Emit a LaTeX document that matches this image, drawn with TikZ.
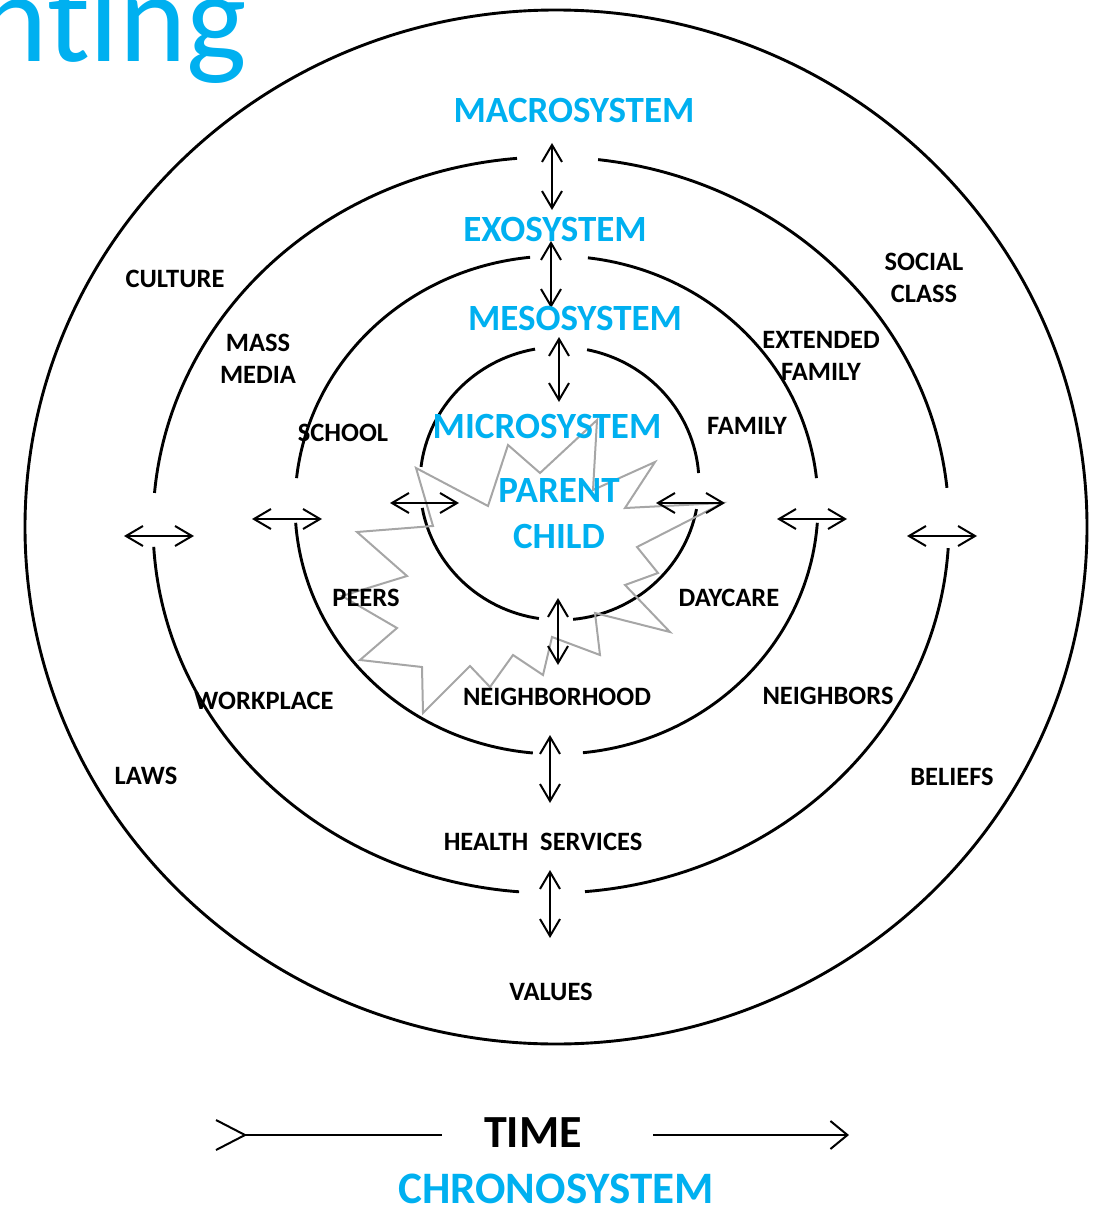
\documentclass[tikz,border=0pt]{standalone}
\usepackage{fontspec}
\setmainfont{Carlito}[Ligatures=NoCommon]
\usetikzlibrary{arrows.meta}
\definecolor{syscyan}{RGB}{0,176,240}
\definecolor{stargray}{RGB}{166,166,166}
\begin{document}
\begin{tikzpicture}[x=1pt,y=-1pt,
    ring/.style={line width=2.9pt},
    link/.style={line width=2pt,{Straight Barb[length=17pt,width=20pt]}-{Straight Barb[length=17pt,width=20pt]}},
    star/.style={draw=stargray,line width=2pt,line join=miter},
    lab/.style={font=\fontsize{26.5}{32}\selectfont\bfseries,align=center,inner sep=0pt},
    sys/.style={font=\fontsize{37}{46}\selectfont\bfseries,text=syscyan,align=center,inner sep=0pt}]
  \useasboundingbox (0,0) rectangle (1099,1209);
  % title, cut at the page edge
  \node[font=\fontsize{128}{130}\selectfont,text=syscyan,anchor=base east,inner sep=0pt] (title) at (247,62) {nting};
  % the rings
  \draw[ring] (556,527) ellipse [x radius=531, y radius=517];
  \foreach \s/\e in {276.8/354.2, 3.6/85.1, 94.6/176.6, 185/265.1}
    \draw[ring] (551,525) ++(\s:398 and 368) arc[start angle=\s, end angle=\e, x radius=398, y radius=368];
  \foreach \s/\e in {276.9/353.8, 4.1/84.2, 95.2/175.9, 186.2/264.2}
    \draw[ring] (556.5,505) ++(\s:261.5 and 249) arc[start angle=\s, end angle=\e, x radius=261.5, y radius=249];
  \foreach \s/\e in {281.4/355.6, 10.8/84.4, 98.5/169.7, 187/259.9}
    \draw[ring] (559.5,483.5) ++(\s:139.5 and 136.5) arc[start angle=\s, end angle=\e, x radius=139.5, y radius=136.5];
  %% the star round the child
  \draw[star] (416,468) -- (433,526) -- (357,532) -- (407,576) -- (342,596) -- (397,628)
    -- (360,660) -- (422,667) -- (423,713) -- (470,666) -- (490,687) -- (513,655)
    -- (543,675) -- (552,637) -- (600,655) -- (595,613) -- (670,632) -- (625,585)
    -- (658,573) -- (637,547) -- (723,503) -- (625,508) -- (655,462) -- (593,490)
    -- (597,420) -- (540,473) -- (508,445) -- (488,506) -- cycle;
  %% arrows between the systems
  \foreach \n/\x/\ya/\yb in {ma/552/143/210, ex/551/241/308, me/559/337/402,
                             mi/558/598/665, nh/550/735/803, hs/550/870/938}
  {
    \coordinate (\n1) at (\x,\ya);
    \coordinate (\n2) at (\x,\yb);
    \draw[link] (\n1) -- (\n2);
  }
  \foreach \n/\y/\xa/\xb in {lw/536/124/194, wp/519/252/322, pe/503/390/459,
                             fa/503/656/725, nb/519/777/847, be/536/907/977}
  {
    \coordinate (\n1) at (\xa,\y);
    \coordinate (\n2) at (\xb,\y);
    \draw[link] (\n1) -- (\n2);
  }
  % system names
  \node[sys] (macro) at (574,110) {MACROSYSTEM};
  \node[sys] (exo) at (555,229) {EXOSYSTEM};
  \node[sys] (meso) at (575,318) {MESOSYSTEM};
  \node[sys] (micro) at (547,426) {MICROSYSTEM};
  \node[sys] (pc) at (559,514) {PARENT\\CHILD};
  % settings
  \node[lab] (culture) at (175,279) {CULTURE};
  \node[lab] (media) at (258,359) {MASS\\MEDIA};
  \node[lab] (school) at (343,433) {SCHOOL};
  \node[lab] (peers) at (366,598) {PEERS};
  \node[lab] (work) at (264,701) {WORKPLACE};
  \node[lab] (laws) at (146,776) {LAWS};
  \node[lab] (social) at (924,278) {SOCIAL\\CLASS};
  \node[lab] (extended) at (821,356) {EXTENDED\\FAMILY};
  \node[lab] (family) at (747,426) {FAMILY};
  \node[lab] (daycare) at (729,598) {DAYCARE};
  \node[lab] (neighbors) at (828,696) {NEIGHBORS};
  \node[lab] (beliefs) at (952,777) {BELIEFS};
  \node[lab] (hood) at (557,697) {NEIGHBORHOOD};
  \node[lab] (health) at (543,842) {HEALTH\ \ SERVICES};
  \node[lab] (values) at (551,992) {VALUES};
  %% time line
  \node[font=\fontsize{46}{50}\selectfont\bfseries,inner sep=0pt] (time) at (533,1133) {TIME};
  \node[sys,font=\fontsize{45}{46}\selectfont\bfseries] (chrono) at (556,1189) {CHRONOSYSTEM};
  \coordinate (ta) at (215,1135);
  \coordinate (tb) at (442,1135);
  \coordinate (tc) at (653,1135);
  \coordinate (td) at (849,1135);
  \draw[line width=2pt,{Straight Barb[reversed,length=29pt,width=30pt]}-] (ta) -- (tb);
  \draw[line width=2pt,-{Straight Barb[length=17pt,width=28pt]}] (tc) -- (td);
\end{tikzpicture}
\end{document}
